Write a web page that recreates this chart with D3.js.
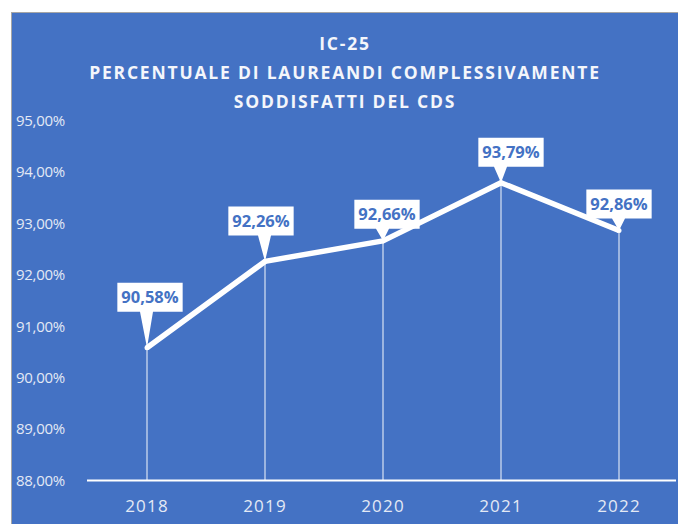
<!DOCTYPE html>
<html>
<head>
<meta charset="utf-8">
<script src="https://cdn.jsdelivr.net/npm/d3@7"></script>
<style>
  html, body { margin: 0; padding: 0; background: #ffffff; }
  svg { display: block; }
</style>
</head>
<body>
<svg id="chart" width="678" height="524"></svg>
<script>
// ---- data ----
const years = ["2018", "2019", "2020", "2021", "2022"];
const values = [90.58, 92.26, 92.66, 93.79, 92.86];
const yTicks = [88, 89, 90, 91, 92, 93, 94, 95];
const titleLines = ["IC-25", "PERCENTUALE DI LAUREANDI COMPLESSIVAMENTE", "SODDISFATTI DEL CDS"];

// ---- layout for data-label callouts (horizontal nudge, gap above point) ----
const labelDx = [3, -4, 4, 10, 0];
const labelGap = [36, 26, 12, 16, 12];

const W = 678, H = 524;
const blue = "#4472C4";
const svg = d3.select("#chart");

const it = d3.formatLocale({decimal: ",", thousands: ".", grouping: [3], currency: ["€", ""]});
const fmt = v => it.format(".2f")(v) + "%";

// panel background
svg.append("rect").attr("x", 11.5).attr("y", 12.5).attr("width", W).attr("height", H)
  .attr("fill", blue).attr("stroke", "#a6a6a6").attr("stroke-width", 1);

const x = d3.scaleBand().domain(years).range([88, 678]);
const y = d3.scaleLinear().domain([88, 95]).range([480.5, 120.5]);
const cx = d => x(d) + x.bandwidth() / 2;

// title
const title = svg.append("text").attr("text-anchor", "middle")
  .attr("font-family", "'Open Sans', sans-serif").attr("font-weight", "bold")
  .attr("font-size", 17.5).attr("fill", "#f4f6fb").attr("letter-spacing", "1.8px");
titleLines.forEach((t, i) => {
  title.append("tspan").attr("x", 345).attr("y", 50 + i * 29).text(t);
});

// y axis
const yAxis = d3.axisLeft(y).tickValues(yTicks).tickFormat(fmt).tickSize(0).tickPadding(0);
const gy = svg.append("g").attr("transform", "translate(16,0)").call(yAxis);
gy.select(".domain").remove();
gy.selectAll("text").attr("x", 0).attr("text-anchor", "start")
  .attr("font-family", "'Open Sans', sans-serif").attr("font-size", 15)
  .attr("letter-spacing", "-0.3px").attr("fill", "#e3e9f5");

// x axis
const xAxis = d3.axisBottom(x).tickSize(0).tickPadding(19);
const gx = svg.append("g").attr("transform", `translate(0,${y(88)})`).call(xAxis);
gx.select(".domain").remove();
gx.selectAll("text").attr("font-family", "'Open Sans', sans-serif").attr("font-size", 17)
  .attr("letter-spacing", "1.2px").attr("fill", "#e3e9f5");

// drop lines
svg.append("g").selectAll("line").data(years).join("line")
  .attr("x1", d => cx(d)).attr("x2", d => cx(d))
  .attr("y1", (d, i) => y(values[i])).attr("y2", y(88))
  .attr("stroke", "rgba(255,255,255,0.8)").attr("stroke-width", 1.2);

// axis line
svg.append("line").attr("x1", 87).attr("x2", 676).attr("y1", y(88)).attr("y2", y(88))
  .attr("stroke", "#ffffff").attr("stroke-width", 2.2);

// series line
const line = d3.line().x((d, i) => cx(years[i])).y(d => y(d));
svg.append("path").datum(values).attr("d", line).attr("fill", "none")
  .attr("stroke", "#ffffff").attr("stroke-width", 5.5).attr("stroke-linejoin", "round");

// markers
svg.append("g").selectAll("circle").data(values).join("circle")
  .attr("cx", (d, i) => cx(years[i])).attr("cy", d => y(d)).attr("r", 2.5)
  .attr("fill", "#ffffff");

// data label callouts
const lg = svg.append("g");
values.forEach((v, i) => {
  const px = cx(years[i]), py = y(v);
  const g = lg.append("g");
  const txt = g.append("text").attr("font-family", "'Open Sans', sans-serif")
    .attr("font-weight", "bold").attr("font-size", 16.5).attr("fill", blue)
    .attr("text-anchor", "middle").text(fmt(v));
  const tw = txt.node().getComputedTextLength();
  const bw = tw + 8, bh = 29;
  const bcx = px + labelDx[i];
  const y1 = py - labelGap[i], y0 = y1 - bh;
  const x0 = bcx - bw / 2, x1 = bcx + bw / 2;
  const t1 = Math.max(x0 + 2, px - 7), t2 = Math.min(x1 - 2, px + 6);
  const p = `M${x0},${y0}H${x1}V${y1}H${t2}L${px},${py}L${t1},${y1}H${x0}Z`;
  g.insert("path", "text").attr("d", p).attr("fill", "#ffffff");
  txt.attr("x", bcx).attr("y", y0 + bh / 2 + 6);
});
</script>
</body>
</html>
